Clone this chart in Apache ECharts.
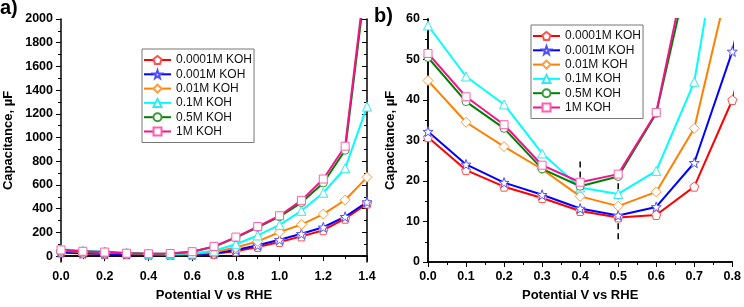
<!DOCTYPE html>
<html>
<head>
<meta charset="utf-8">
<script src="https://cdn.jsdelivr.net/npm/echarts@6/dist/echarts.min.js"></script>
<style>
  html, body { margin: 0; padding: 0; background: #fff; }
  #chart { width: 744px; height: 307px; }
</style>
</head>
<body>
<div id="chart"></div>
<script>
// potential (V vs RHE)
const potentials = [0, 0.1, 0.2, 0.3, 0.4, 0.5, 0.6, 0.7, 0.8, 0.9, 1.0, 1.1, 1.2, 1.3, 1.4];
// capacitance in uF
const koh00001 = [30.8, 22.7, 18.6, 15.8, 12.6, 11.0, 11.6, 18.6, 40, 77, 119, 166, 218, 315, 443];
const koh0001 = [32.2, 24.1, 19.6, 16.6, 13.2, 11.5, 13.6, 24.5, 52, 91, 138, 188, 243, 332, 456];
const koh001 = [44.8, 34.5, 28.5, 22.9, 16.2, 13.8, 17.3, 33, 73, 124, 202, 266, 354, 473, 664];
const koh01 = [58.4, 45.8, 38.9, 26.8, 18.4, 16.8, 22.5, 44.5, 100, 174, 263, 382, 534, 741, 1261];
const koh05 = [50.5, 39.6, 33.0, 23.0, 18.7, 21.1, 36.7, 78, 155, 243, 332, 451, 617, 893, 2400];
const koh1 = [51.5, 40.8, 33.9, 23.9, 19.7, 21.7, 36.9, 82, 160, 249, 340, 470, 650, 927, 2460];
// dashed guide lines in panel b
const guide04 = [[0.4, 24.8], [0.4, 18.5]];
const guide05 = [[0.5, 21.9], [0.5, 5.5]];

const yTicksA = [0, 200, 400, 600, 800, 1000, 1200, 1400, 1600, 1800, 2000];
const yMinorA = [100, 300, 500, 700, 900, 1100, 1300, 1500, 1700, 1900];

const font = "'Liberation Sans', Arial, sans-serif";
const pentagon = 'path://M0,-10L9.51,-3.09L5.88,8.09L-5.88,8.09L-9.51,-3.09Z';
const star = 'path://M0,-10L2.35,-3.24L9.51,-3.09L3.8,1.24L5.88,8.09L0,4L-5.88,8.09L-3.8,1.24L-9.51,-3.09L-2.35,-3.24Z';

const lines = [
  { name: '0.0001M KOH', data: koh00001, color: '#ff0000', mark: '#ff5050', symbol: pentagon, size: 9 },
  { name: '0.001M KOH', data: koh0001, color: '#0000ff', mark: '#5050ff', symbol: star, size: 10 },
  { name: '0.01M KOH', data: koh001, color: '#ff8000', mark: '#ff9a3c', symbol: 'diamond', size: 10 },
  { name: '0.1M KOH', data: koh01, color: '#00ffff', mark: '#30eaf0', symbol: 'triangle', size: 9 },
  { name: '0.5M KOH', data: koh05, color: '#008000', mark: '#3a9a3a', symbol: 'circle', size: 8 },
  { name: '1M KOH', data: koh1, color: '#f0148c', mark: '#ff5fae', symbol: 'rect', size: 8 }
];

const axisLine = { show: true, lineStyle: { color: '#000', width: 1.5 } };
const labelStyle = { color: '#000', fontFamily: font, fontWeight: 'bold', fontSize: 12.5 };
const nameStyle = { color: '#000', fontFamily: font, fontWeight: 'bold', fontSize: 13 };

function xAxis(grid, max, interval, pos) {
  const bottom = pos === 'bottom';
  return {
    type: 'value', gridIndex: grid, position: pos, min: 0, max: max, interval: interval,
    axisLine: axisLine,
    axisTick: { show: true, inside: !bottom, length: 5, lineStyle: { color: '#000', width: 1 } },
    minorTick: { show: true, splitNumber: 2, length: 3, lineStyle: { color: '#000', width: 1 } },
    axisLabel: bottom ? Object.assign({ margin: 8, formatter: v => v.toFixed(1) }, labelStyle) : { show: false },
    splitLine: { show: false },
    name: bottom ? 'Potential V vs RHE' : '', nameLocation: 'middle', nameGap: 27, nameTextStyle: nameStyle
  };
}

function yAxisA(pos, values, len, withLine, withLabel) {
  return {
    type: 'value', gridIndex: 0, position: pos, min: -50, max: 2000,
    axisLine: withLine ? axisLine : { show: false },
    axisTick: { show: true, inside: pos === 'right', length: len, customValues: values, lineStyle: { color: '#000', width: 1 } },
    axisLabel: withLabel ? Object.assign({ margin: 8, customValues: yTicksA, formatter: v => String(v) }, labelStyle) : { show: false },
    splitLine: { show: false },
    name: withLabel ? 'Capacitance, µF' : '', nameLocation: 'middle', nameGap: 46, nameTextStyle: nameStyle
  };
}

function yAxisB(pos) {
  const left = pos === 'left';
  return {
    type: 'value', gridIndex: 1, position: pos, min: 0, max: 60, interval: 10,
    axisLine: axisLine,
    axisTick: { show: true, inside: !left, length: 5, lineStyle: { color: '#000', width: 1 } },
    minorTick: { show: true, splitNumber: 2, length: 3, lineStyle: { color: '#000', width: 1 } },
    axisLabel: left ? Object.assign({ margin: 8 }, labelStyle) : { show: false },
    splitLine: { show: false },
    name: left ? 'Capacitance, µF' : '', nameLocation: 'middle', nameGap: 31, nameTextStyle: nameStyle
  };
}

const series = [];
[[0, 0], [2, 4]].forEach(([xi, yi]) => {
  lines.forEach(l => {
    series.push({
      name: l.name, type: 'line', xAxisIndex: xi, yAxisIndex: yi,
      data: potentials.map((p, i) => [p, l.data[i]]),
      symbol: l.symbol, symbolSize: l.size, showAllSymbol: true, clip: true,
      lineStyle: { color: l.color, width: 2 },
      itemStyle: { color: '#fff', borderColor: l.mark, borderWidth: 1 },
      emphasis: { disabled: true }
    });
  });
});
[guide04, guide05].forEach(g => {
  series.push({
    type: 'line', xAxisIndex: 2, yAxisIndex: 4, data: g, symbol: 'none', z: 1,
    lineStyle: { color: '#000', width: 1.5, type: [6, 4] }
  });
});

function legend(left, top) {
  return {
    orient: 'vertical', left: left, top: top, data: lines.map(l => l.name),
    itemWidth: 27, itemHeight: 10, itemGap: 0.3, padding: [4, 2, 4, 1],
    borderColor: '#777', borderWidth: 1,
    textStyle: { color: '#111', fontFamily: font, fontSize: 12, lineHeight: 14 },
    selectedMode: false
  };
}

const chart = echarts.init(document.getElementById('chart'), null, { renderer: 'canvas' });
chart.setOption({
  animation: false,
  backgroundColor: '#fff',
  grid: [
    { left: 61, top: 19, width: 306, bottom: 43 },
    { left: 428, top: 19, width: 306, bottom: 43 }
  ],
  xAxis: [xAxis(0, 1.4, 0.2, 'bottom'), xAxis(0, 1.4, 0.2, 'top'), xAxis(1, 0.8, 0.1, 'bottom'), xAxis(1, 0.8, 0.1, 'top')],
  yAxis: [
    yAxisA('left', yTicksA, 5, true, true),
    yAxisA('left', yMinorA, 3, false, false),
    yAxisA('right', yTicksA, 5, true, false),
    yAxisA('right', yMinorA, 3, false, false),
    yAxisB('left'),
    yAxisB('right')
  ],
  legend: [legend(142, 49), legend(531, 25)],
  graphic: [
    { type: 'text', left: 0, top: -2, style: { text: 'a)', font: 'bold 20px ' + font, fill: '#000' } },
    { type: 'text', left: 374, top: 6, style: { text: 'b)', font: 'bold 20px ' + font, fill: '#000' } }
  ],
  series: series
});
</script>
</body>
</html>
